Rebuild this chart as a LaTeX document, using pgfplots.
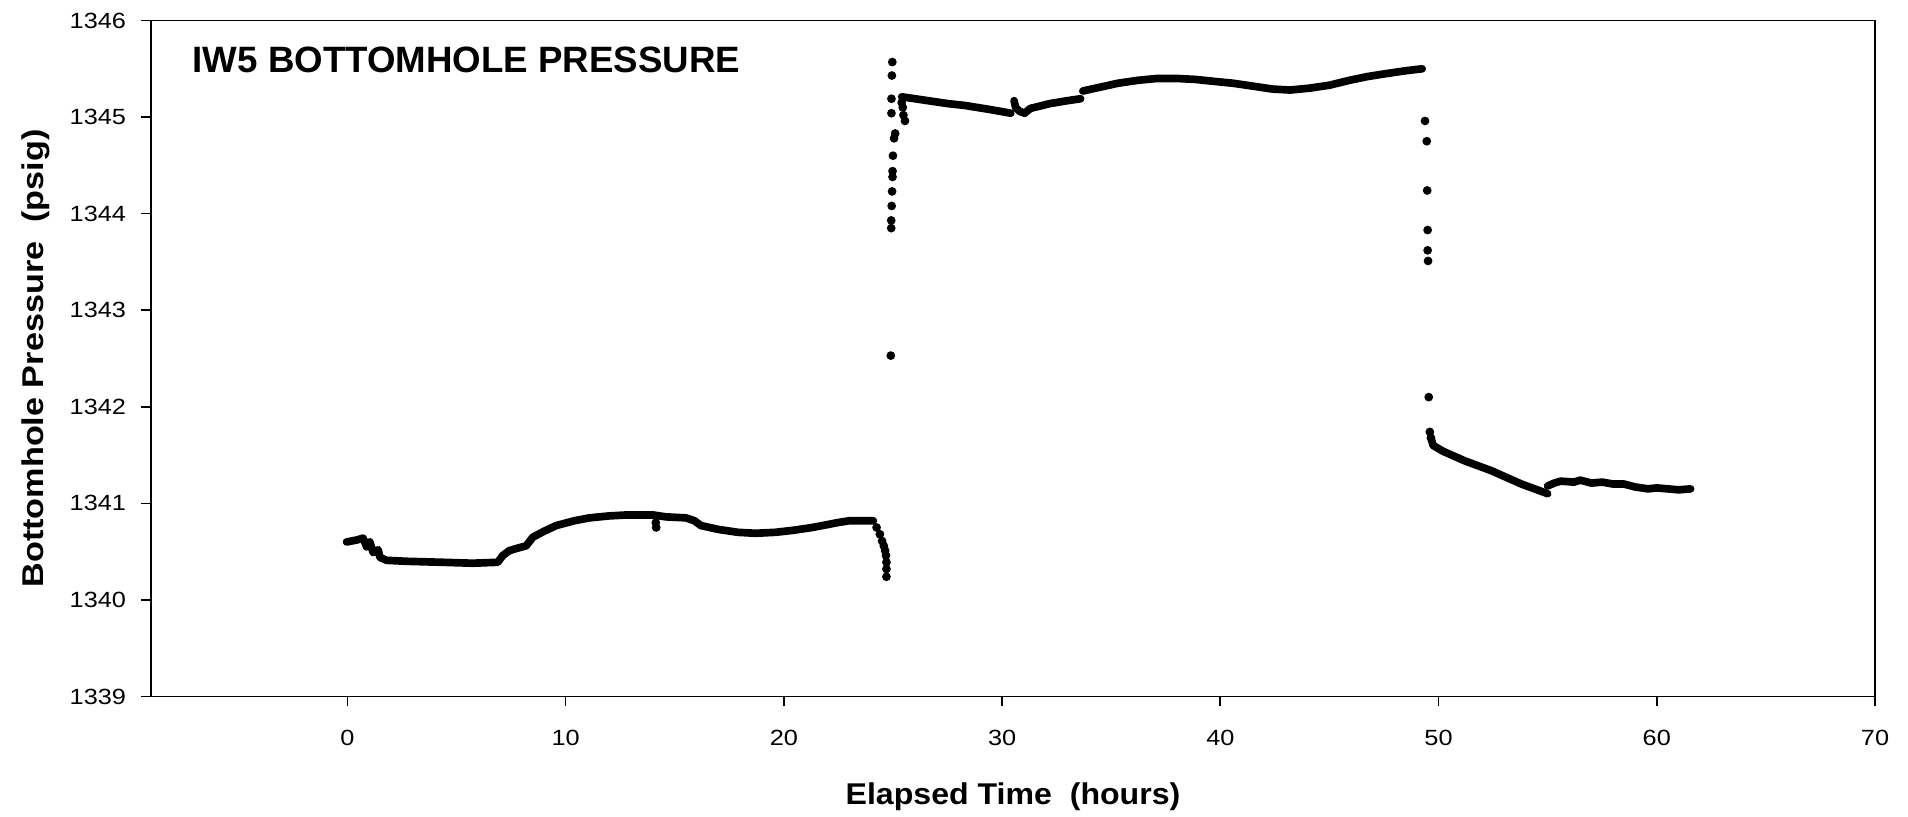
\documentclass[border=0pt]{standalone}
\usepackage{fontspec}
\setmainfont{Liberation Sans}
\newfontfamily\tickfont[FakeStretch=1.15]{Liberation Sans}
\newfontfamily\xlabfont[FakeStretch=1.07]{Liberation Sans}
\newfontfamily\ylabfont[FakeStretch=1.14]{Liberation Sans}
\usepackage{pgfplots}
\pgfplotsset{compat=1.18}
\begin{document}
\begin{tikzpicture}
\begin{axis}[
  at={(0,0)}, anchor=south west,
  scale only axis, width=517.2pt, height=202.8pt,
  xmin=-9, xmax=70, ymin=1339, ymax=1346,
  xtick={0,10,...,70}, ytick={1339,1340,...,1346},
  xtick pos=bottom, ytick pos=left, tick align=outside,
  major tick length=3pt,
  axis line style={line width=0.5pt},
  tick style={line width=0.5pt, black},
  /pgf/number format/1000 sep={},
  /pgf/number format/assume math mode=true,
  ticklabel style={font=\tickfont\fontsize{6.6pt}{7.5pt}\selectfont},
  yticklabel style={anchor=east, inner sep=0pt, xshift=-4.3pt},
  xticklabel style={anchor=north, inner sep=0pt, yshift=-7pt},
  xlabel={Elapsed Time\ \ (hours)},
  ylabel={Bottomhole Pressure\ \ (psig)},
  every axis x label/.style={at={(axis description cs:0.5,-0.1594)}, anchor=base, inner sep=0pt, font=\xlabfont\bfseries\fontsize{9pt}{10pt}\selectfont},
  every axis y label/.style={at={(axis description cs:-0.0626,0.5)}, rotate=90, anchor=base, inner sep=0pt, font=\ylabfont\bfseries\fontsize{9pt}{10pt}\selectfont},
]
% dense segments
\addplot[black, line width=2.3pt, line cap=round, line join=round] coordinates {
(-0.04,1340.60)(0.42,1340.62)(0.72,1340.64)(0.88,1340.55)(1.03,1340.60)(1.18,1340.49)(1.41,1340.52)(1.49,1340.44)(1.8,1340.41)(2.7,1340.40)(4.3,1340.39)(5.74,1340.38)(6.89,1340.39)(7.12,1340.46)(7.42,1340.51)(7.7,1340.53)(8.19,1340.56)(8.5,1340.65)(9.0,1340.71)(9.57,1340.77)(10.4,1340.82)(11.1,1340.85)(12.0,1340.87)(12.8,1340.88)(14.0,1340.88)(14.6,1340.86)(15.5,1340.85)(15.9,1340.82)(16.2,1340.77)(17.0,1340.73)(17.9,1340.70)(18.7,1340.69)(19.6,1340.70)(20.4,1340.72)(21.3,1340.75)(22.0,1340.78)(22.45,1340.80)(23.0,1340.82)(24.1,1340.82)
};
\addplot[black, line width=2.3pt, line cap=round, line join=round] coordinates {
(25.4,1345.21)(26.0,1345.19)(26.6,1345.17)(27.5,1345.14)(28.3,1345.12)(29.4,1345.08)(30.4,1345.04)
};
\addplot[black, line width=2.3pt, line cap=round, line join=round] coordinates {
(30.55,1345.17)(30.62,1345.10)(30.8,1345.06)(31.03,1345.04)(31.3,1345.09)(32.2,1345.14)(33.0,1345.17)(33.6,1345.19)
};
\addplot[black, line width=2.3pt, line cap=round, line join=round] coordinates {
(33.7,1345.27)(34.5,1345.31)(35.3,1345.35)(36.2,1345.38)(37.1,1345.40)(38.0,1345.40)(38.85,1345.39)(39.7,1345.37)(40.6,1345.35)(41.5,1345.32)(42.4,1345.29)(43.2,1345.28)(44.1,1345.30)(45.0,1345.33)(45.9,1345.38)(46.75,1345.42)(47.6,1345.45)(48.5,1345.48)(49.25,1345.50)
};
\addplot[black, line width=2.3pt, line cap=round, line join=round] coordinates {
(49.65,1341.68)(49.75,1341.60)(50.2,1341.54)(50.7,1341.49)(51.2,1341.44)(51.8,1341.39)(52.4,1341.34)(53.1,1341.27)(53.8,1341.20)(54.4,1341.15)(55.0,1341.10)
};
\addplot[black, line width=2.3pt, line cap=round, line join=round] coordinates {
(55.0,1341.18)(55.3,1341.21)(55.6,1341.23)(56.2,1341.22)(56.5,1341.24)(57.0,1341.21)(57.5,1341.22)(58.0,1341.20)(58.5,1341.20)(59.0,1341.17)(59.6,1341.15)(60.0,1341.16)(60.5,1341.15)(61.0,1341.14)(61.55,1341.15)
};
% isolated readings
\addplot[only marks, mark=*, mark size=1.1pt, black] coordinates {
(14.13,1340.80)(14.15,1340.75)
(24.25,1340.75)(24.4,1340.68)(24.5,1340.61)(24.58,1340.56)(24.64,1340.51)(24.68,1340.46)(24.7,1340.39)(24.7,1340.32)(24.7,1340.24)
(24.90,1342.53)
(24.92,1343.85)(24.92,1343.93)(24.94,1344.08)(24.96,1344.23)(24.98,1344.38)(24.98,1344.44)(25.0,1344.60)(25.05,1344.78)(25.1,1344.83)
(24.93,1345.04)(24.93,1345.19)(24.95,1345.43)(24.97,1345.57)
(25.4,1345.15)(25.45,1345.10)(25.48,1345.02)(25.55,1344.96)
(49.38,1344.96)(49.46,1344.75)(49.48,1344.24)(49.5,1343.83)(49.5,1343.62)(49.52,1343.51)(49.55,1342.10)(49.6,1341.74)(49.65,1341.68)
};
\node[anchor=west, inner sep=0pt, font=\bfseries\fontsize{11pt}{13pt}\selectfont] at (axis description cs:0.0238,0.9417) {IW5 BOTTOMHOLE PRESSURE};
\end{axis}
\path[use as bounding box] (-45.3pt,-36.15pt) rectangle (527.1pt,208.95pt);
\end{tikzpicture}
\end{document}
